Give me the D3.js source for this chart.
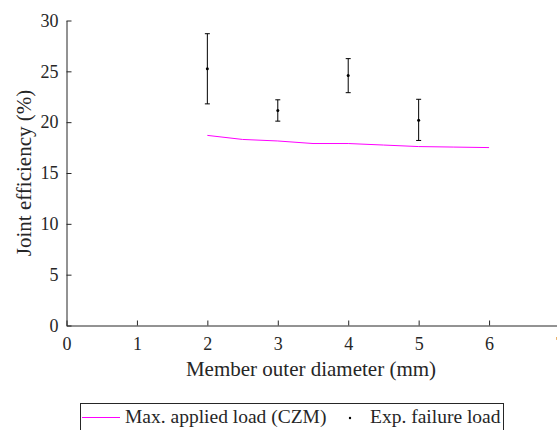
<!DOCTYPE html>
<html><head><meta charset="utf-8">
<script src="https://cdn.jsdelivr.net/npm/d3@7"></script>
<style>body{margin:0;background:#fff}svg{display:block}text{font-family:"Liberation Serif","Times New Roman",serif;fill:#262626}</style>
</head><body><svg id="c" width="557" height="430"></svg>
<script>
const lineX = [2, 2.5, 3, 3.5, 4, 4.5, 5, 5.5, 6];
const lineY = [18.7, 18.3, 18.15, 17.9, 17.9, 17.75, 17.6, 17.55, 17.5];
const expX = [2, 3, 4, 5];
const expMean = [25.25, 21.15, 24.6, 20.2];
const expLow = [21.8, 20.1, 22.9, 18.2];
const expHigh = [28.7, 22.2, 26.25, 22.25];
const xTicks = [0, 1, 2, 3, 4, 5, 6, 7];
const yTicks = [0, 5, 10, 15, 20, 25, 30];

const svg = d3.select("#c");
const x = d3.scaleLinear().domain([0, 7]).range([66.5, 559.5]);
const y = d3.scaleLinear().domain([0, 30]).range([325.5, 20.5]);
const ink = "#262626";
const serif = '"Liberation Serif","Times New Roman",serif';

const xa = svg.append("g").attr("transform", `translate(0,${y(0)})`)
  .call(d3.axisBottom(x).tickValues(xTicks).tickFormat(d3.format("d")).tickSizeInner(-5).tickSizeOuter(0).tickPadding(12));
const ya = svg.append("g").attr("transform", `translate(${x(0)},0)`)
  .call(d3.axisLeft(y).tickValues(yTicks).tickFormat(d3.format("d")).tickSizeInner(-5).tickSizeOuter(0).tickPadding(8));
[xa, ya].forEach(a => {
  a.attr("font-family", serif);
  a.select(".domain").attr("stroke", ink).attr("stroke-width", 1);
  a.selectAll(".tick line").attr("stroke", ink);
  a.selectAll("text").style("font-size", "18px").style("font-family", serif).attr("fill", ink);
});

const line = d3.line().x((d, i) => x(lineX[i])).y(d => y(d));
svg.append("path").datum(lineY).attr("d", line).attr("fill", "none")
  .attr("stroke", "#ff00ff").attr("stroke-width", 1);

const eb = svg.append("g").attr("stroke", "#000").attr("stroke-width", 1);
expX.forEach((v, i) => {
  const cx = x(v);
  eb.append("line").attr("x1", cx).attr("x2", cx).attr("y1", y(expLow[i])).attr("y2", y(expHigh[i]));
  eb.append("line").attr("x1", cx - 2.5).attr("x2", cx + 2.5).attr("y1", y(expLow[i])).attr("y2", y(expLow[i]));
  eb.append("line").attr("x1", cx - 2.5).attr("x2", cx + 2.5).attr("y1", y(expHigh[i])).attr("y2", y(expHigh[i]));
  svg.append("circle").attr("cx", cx).attr("cy", y(expMean[i])).attr("r", 1.5).attr("fill", "#000");
});

svg.append("text").attr("transform", `translate(31,${(y(0) + y(30)) / 2}) rotate(-90)`)
  .attr("text-anchor", "middle").style("font-size", "21px").text("Joint efficiency (%)");
svg.append("text").attr("x", 311).attr("y", 376).attr("text-anchor", "middle")
  .style("font-size", "21px").text("Member outer diameter (mm)");

// legend
const lg = svg.append("g");
lg.append("rect").attr("x", 80.5).attr("y", 403.5).attr("width", 423).attr("height", 40)
  .attr("fill", "#fff").attr("stroke", ink).attr("stroke-width", 1);
lg.append("line").attr("x1", 82).attr("x2", 120).attr("y1", 417.5).attr("y2", 417.5)
  .attr("stroke", "#ff00ff").attr("stroke-width", 1);
lg.append("text").attr("x", 125).attr("y", 423).style("font-size", "19.5px").text("Max. applied load (CZM)");
lg.append("circle").attr("cx", 350).attr("cy", 418).attr("r", 1.2).attr("fill", "#000");
lg.append("text").attr("x", 370).attr("y", 423).style("font-size", "19.5px").text("Exp. failure load");
</script></body></html>
